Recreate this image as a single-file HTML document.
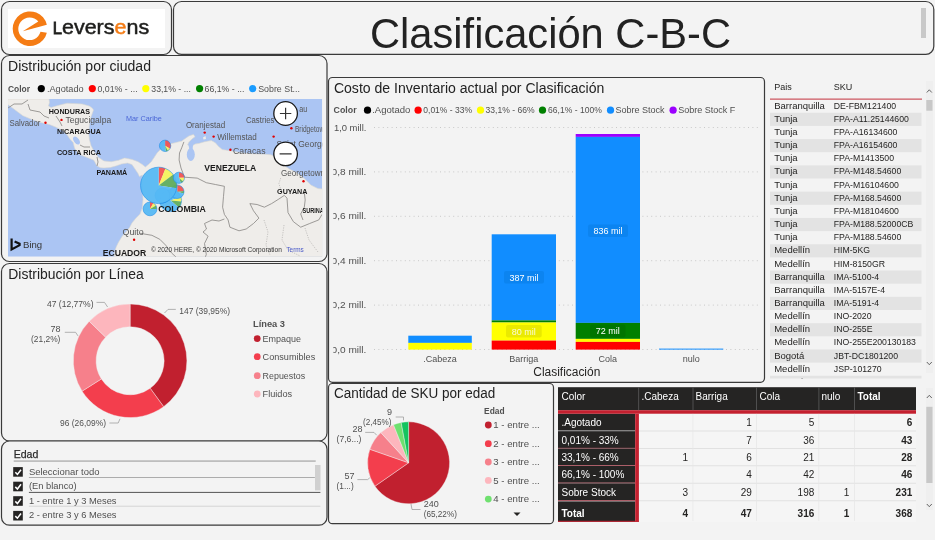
<!DOCTYPE html>
<html><head><meta charset="utf-8">
<style>
html,body{margin:0;padding:0;width:935px;height:540px;overflow:hidden;background:#f3f3f3;}
svg{display:block;font-family:"Liberation Sans",sans-serif;will-change:transform;}
.t{fill:#222222;}
.g{fill:#505050;}
</style></head>
<body>
<svg id="s" width="935" height="540" viewBox="0 0 935 540">
<rect x="0" y="0" width="935" height="540" fill="#f3f3f3"/>

<!-- ============ LOGO BOX ============ -->
<rect x="1.5" y="1.5" width="170" height="53" rx="8" fill="#f3f3f3" stroke="#3a3a3a" stroke-width="1.2"/>
<rect x="8" y="9" width="157" height="39" fill="#ffffff"/>
<g id="logo">
  <path d="M46.84 24.72 A17.3 17.3 0 1 0 46.84 32.69 L40.5 31.8 A11.3 11.3 0 1 1 38.3 21.6 L22.8 31.3 Z" fill="#f57c14"/>
  <text x="52.7" y="34" font-size="21" fill="#1d1d1b" stroke="#1d1d1b" stroke-width="0.5" textLength="96.5" lengthAdjust="spacingAndGlyphs"><tspan font-size="16.2" stroke-width="0.8">L</tspan>evers<tspan fill="#f57c14" stroke="#f57c14">e</tspan>ns</text>
</g>

<!-- ============ TITLE BOX ============ -->
<rect x="173.5" y="1.5" width="760.3" height="52.8" rx="8" fill="#f3f3f3" stroke="#3a3a3a" stroke-width="1.2"/>
<text x="370" y="47.8" font-size="41.7" class="t" textLength="361" lengthAdjust="spacingAndGlyphs">Clasificación C-B-C</text>
<rect x="921" y="8" width="5" height="30" fill="#c8c8c8"/>

<!-- ============ MAP BOX ============ -->
<rect x="1.5" y="55.5" width="325.5" height="206" rx="8" fill="#f3f3f3" stroke="#3a3a3a" stroke-width="1.2"/>
<text x="8" y="70.6" font-size="14" class="t" textLength="143" lengthAdjust="spacingAndGlyphs">Distribución por ciudad</text>
<g id="maplegend" font-size="9" fill="#505050">
  <text x="8" y="91.8" font-weight="bold" textLength="22" lengthAdjust="spacingAndGlyphs">Color</text>
  <circle cx="41.3" cy="88.6" r="3.6" fill="#000"/>
  <text x="46.9" y="91.8" textLength="36.8" lengthAdjust="spacingAndGlyphs">.Agotado</text>
  <circle cx="92.3" cy="88.6" r="3.6" fill="#ff0000"/>
  <text x="97.4" y="91.8" textLength="40.2" lengthAdjust="spacingAndGlyphs">0,01% - ...</text>
  <circle cx="145.8" cy="88.6" r="3.6" fill="#ffff00"/>
  <text x="151.3" y="91.8" textLength="39.6" lengthAdjust="spacingAndGlyphs">33,1% - ...</text>
  <circle cx="199.6" cy="88.6" r="3.6" fill="#008000"/>
  <text x="204.5" y="91.8" textLength="40" lengthAdjust="spacingAndGlyphs">66,1% - ...</text>
  <circle cx="252.7" cy="88.6" r="3.6" fill="#1a9cff"/>
  <text x="258.2" y="91.8" textLength="41.8" lengthAdjust="spacingAndGlyphs">Sobre St...</text>
</g>
<!--MAPSTART--><g id="map">
<defs><clipPath id="mapclip"><rect x="8" y="99" width="314.2" height="157.7"/></clipPath></defs>
<g clip-path="url(#mapclip)">
  <rect x="8" y="99" width="314.2" height="157.7" fill="#abc5f3"/>
  <path d="M7.6,99 L49,99 L49.5,102.5 L48.5,106 L51,107.5 L58,105.5 L67,103.2 L82,103.9 L89.4,106.1 L92.4,108.3 L93.5,110 L91,117 L89.4,124.6 L88.7,133.5 L89.4,139.4 L91,145.4 L94,151.3 L98.3,157.2 L103.9,160.9 L111.3,161.7 L118.7,160.2 L124.6,158 L132,159.4 L138,161.7 L142.4,164.6 L145.4,166.9 L148.3,164.6 L151.3,161.7 L154.3,157.2 L157.2,152.8 L160.2,149.8 L164,146.3 L169.8,144 L175.7,142.6 L181.7,141.1 L184.6,138.9 L189,135.9 L193.5,134.4 L195,136.7 L192,138.9 L189,141.9 L187.6,144.8 L190.6,146.3 L192.8,145.6 L195,144.1 L199.4,143.3 L203.9,141.9 L208.3,141.1 L211.3,140.6 L215.4,142.8 L218.4,146.3 L222.2,149.5 L230,150.8 L242.8,153 L255.6,154 L266,154.3 L271,154.8 L274.5,156.5 L279.3,160.5 L284.5,165.7 L289.8,169.3 L296.9,172.8 L303.9,178.1 L310.9,185.1 L318,188.6 L323,189 L323,257 L114,257 L114.8,251.1 L116.3,246.7 L118.5,242.2 L122.2,236.3 L125.9,231.9 L129.6,227.4 L131.9,223 L135.6,218.5 L140,214.1 L142.2,208.1 L143,199.3 L142.6,190 L141.7,179.4 L142.4,175 L139.4,176.5 L138,173.5 L135,169 L132,164.6 L127.6,163.1 L121.7,163.9 L115.7,166.1 L110,167.6 L104,168 L100.5,167.8 L97,166 L93.9,160.2 L86.5,157.2 L79,154.3 L74.6,148.3 L73.1,142.4 L70.2,139.4 L67.2,135 L62.8,130.6 L55.4,126.9 L49.4,124.6 L40.6,122.4 L31.7,119.4 L22.8,115.7 L13.9,109.1 L7.6,104.5 Z" fill="#efedea" stroke="#d8d6d2" stroke-width="0.6"/>
  <ellipse cx="190.8" cy="154.5" rx="4" ry="6.5" fill="#abc5f3"/><path d="M188.5 145 L193 145 L192.5 150 L189.5 150 Z" fill="#abc5f3"/>
  <ellipse cx="76.5" cy="140.5" rx="2.6" ry="4.5" transform="rotate(-35 76.5 140.5)" fill="#abc5f3"/>
  <path d="M203 137.5 L205.5 136 L206 139 L203.5 139.5 Z" fill="#efedea"/>
  <g fill="none" stroke="#8c8a88" stroke-width="0.85">
    <polyline points="183.9,141.9 181.7,147.8 179.5,153 179.1,160 181,168 184.5,177.2 197.2,178.1 206.3,182.7 215.4,184.5 224.4,186.3 223.5,196.3 222.6,207.2 224.4,214.4 228.1,219.9 229.9,227.2 239,230.8 246.2,229 253.5,223.5 258.9,218.1 253.5,210.8 249.9,203.6 257.1,204.5 264.4,207.2 271.6,203.6 278.9,199 284.3,195.4 287,198.1 288,212.6 293.4,221.7 300.7,227.2 309.7,223.5 318.8,219.9 322,214.4"/>
    <polyline points="304.3,192.7 305.2,199.9 304.3,207.2 300.7,214 303,220"/>
    <polyline points="204.5,223.5 206.5,229 203,232 208.1,236.2 204.5,243.5 206.3,254.4 205,258"/>
    <polyline points="204.5,223.5 212,220 219,221 224.4,219"/>
    <polyline points="140,233.3 151.9,235.3 159.8,239.3 165.7,245.2 171.7,253.1 176,257"/>
    <polyline points="8,108 14,104 22,104 28,100"/>
    <polyline points="28,104 30,110 40,112 44,116 49,118"/>
    <polyline points="56,116 60,122 62,126"/>
    <polyline points="80,145 84,147 90,147"/>
    <polyline points="97,157 98,162 97,166"/>
  </g>
  <g fill="none" stroke="#a8a6a4" stroke-width="0.6" stroke-dasharray="1.2 1.2">
    <polyline points="280.7,178.1 278.9,183.6 281,190"/>
    <polyline points="264,220 268,232 266,245 270,255"/>
    <polyline points="284,225 282,240 288,250 300,256"/>
    <polyline points="305,228 309,240 318,252"/>
  </g>
  <g opacity="0.93">
<path d="M150 208.9 L150.00 202.00 A6.9 6.9 0 0 1 153.45 202.92 Z" fill="#f25050"/>
<path d="M150 208.9 L153.45 202.92 A6.9 6.9 0 0 1 155.98 205.45 Z" fill="#f5f55a"/>
<path d="M150 208.9 L155.98 205.45 A6.9 6.9 0 0 1 156.90 208.90 Z" fill="#5cac5c"/>
<path d="M150 208.9 L156.90 208.90 A6.9 6.9 0 1 1 150.00 202.00 Z" fill="#55b9f5"/>
</g>
<circle cx="150" cy="208.9" r="6.9" fill="none" stroke="#1b8ae6" stroke-width="0.7" opacity="0.8"/>
<g opacity="0.93">
<path d="M170.6 200.6 L170.60 189.60 A11 11 0 0 1 180.94 196.84 Z" fill="#55b9f5"/>
<path d="M170.6 200.6 L180.94 196.84 A11 11 0 0 1 181.56 201.56 Z" fill="#f5f55a"/>
<path d="M170.6 200.6 L181.56 201.56 A11 11 0 0 1 179.03 207.67 Z" fill="#5cac5c"/>
<path d="M170.6 200.6 L179.03 207.67 A11 11 0 1 1 170.60 189.60 Z" fill="#55b9f5"/>
</g>
<circle cx="170.6" cy="200.6" r="11" fill="none" stroke="#1b8ae6" stroke-width="0.7" opacity="0.8"/>
<g opacity="0.93">
<path d="M177.2 191.7 L177.20 184.90 A6.8 6.8 0 0 1 183.97 191.11 Z" fill="#f25050"/>
<path d="M177.2 191.7 L183.97 191.11 A6.8 6.8 0 0 1 183.77 193.46 Z" fill="#5cac5c"/>
<path d="M177.2 191.7 L183.77 193.46 A6.8 6.8 0 1 1 177.20 184.90 Z" fill="#55b9f5"/>
</g>
<circle cx="177.2" cy="191.7" r="6.8" fill="none" stroke="#1b8ae6" stroke-width="0.7" opacity="0.8"/>
<g opacity="0.93">
<circle cx="162.5" cy="195.5" r="7.5" fill="#55b9f5"/>
</g>
<circle cx="162.5" cy="195.5" r="7.5" fill="none" stroke="#1b8ae6" stroke-width="0.7" opacity="0.8"/>
<g opacity="0.93">
<path d="M158.7 185.4 L158.70 167.20 A18.2 18.2 0 0 1 165.52 168.53 Z" fill="#f25050"/>
<path d="M158.7 185.4 L165.52 168.53 A18.2 18.2 0 0 1 173.24 174.45 Z" fill="#f5f55a"/>
<path d="M158.7 185.4 L173.24 174.45 A18.2 18.2 0 0 1 176.68 188.25 Z" fill="#5cac5c"/>
<path d="M158.7 185.4 L176.68 188.25 A18.2 18.2 0 1 1 158.70 167.20 Z" fill="#55b9f5"/>
</g>
<circle cx="158.7" cy="185.4" r="18.2" fill="none" stroke="#1b8ae6" stroke-width="0.7" opacity="0.8"/>
<g opacity="0.93">
<path d="M178.9 177.8 L178.90 172.20 A5.6 5.6 0 0 1 184.50 177.80 Z" fill="#f25050"/>
<path d="M178.9 177.8 L184.50 177.80 A5.6 5.6 0 0 1 183.19 181.40 Z" fill="#f5f55a"/>
<path d="M178.9 177.8 L183.19 181.40 A5.6 5.6 0 0 1 180.82 183.06 Z" fill="#5cac5c"/>
<path d="M178.9 177.8 L180.82 183.06 A5.6 5.6 0 1 1 178.90 172.20 Z" fill="#55b9f5"/>
</g>
<circle cx="178.9" cy="177.8" r="5.6" fill="none" stroke="#1b8ae6" stroke-width="0.7" opacity="0.8"/>
<g opacity="0.93">
<path d="M165.1 145.8 L165.10 140.10 A5.7 5.7 0 0 1 170.04 148.65 Z" fill="#f25050"/>
<path d="M165.1 145.8 L170.04 148.65 A5.7 5.7 0 0 1 167.95 150.74 Z" fill="#f5f55a"/>
<path d="M165.1 145.8 L167.95 150.74 A5.7 5.7 0 0 1 165.60 151.48 Z" fill="#5cac5c"/>
<path d="M165.1 145.8 L165.60 151.48 A5.7 5.7 0 1 1 165.10 140.10 Z" fill="#55b9f5"/>
</g>
<circle cx="165.1" cy="145.8" r="5.7" fill="none" stroke="#1b8ae6" stroke-width="0.7" opacity="0.8"/>
  <g fill="#e00000"><circle cx="45.5" cy="122.8" r="1.2" fill="#e00000"/><circle cx="61.5" cy="119.9" r="1.2" fill="#e00000"/><circle cx="204.7" cy="132.6" r="1.2" fill="#e00000"/><circle cx="213.6" cy="136.6" r="1.2" fill="#e00000"/><circle cx="230.4" cy="149.8" r="1.2" fill="#e00000"/><circle cx="273.6" cy="136.6" r="1.2" fill="#e00000"/><circle cx="291.4" cy="128.2" r="1.2" fill="#e00000"/><circle cx="303.5" cy="181.2" r="1.2" fill="#e00000"/><circle cx="134.1" cy="239.7" r="1.2" fill="#e00000"/></g>
  <g font-size="8.3" fill="#555">
    <text x="9.5" y="125.9" textLength="30.9" lengthAdjust="spacingAndGlyphs">Salvador</text>
    <text x="65.5" y="123.2" font-size="9" textLength="45.8" lengthAdjust="spacingAndGlyphs">Tegucigalpa</text>
    <text x="185.9" y="127.6" textLength="39.2" lengthAdjust="spacingAndGlyphs">Oranjestad</text>
    <text x="217.2" y="140.1" textLength="39.5" lengthAdjust="spacingAndGlyphs">Willemstad</text>
    <text x="233" y="154" font-size="9" textLength="32.6" lengthAdjust="spacingAndGlyphs">Caracas</text>
    <text x="245.9" y="122.7" textLength="28.6" lengthAdjust="spacingAndGlyphs">Castries</text>
    <text x="299.3" y="112.2" textLength="8" lengthAdjust="spacingAndGlyphs">au</text>
    <text x="294.9" y="132.2" textLength="33" lengthAdjust="spacingAndGlyphs">Bridgetown</text>
    <text x="276.5" y="146.8" textLength="50" lengthAdjust="spacingAndGlyphs">Saint George</text>
    <text x="281" y="176.3" textLength="44" lengthAdjust="spacingAndGlyphs">Georgetown</text>
    <text x="122.5" y="235.1" textLength="21.2" lengthAdjust="spacingAndGlyphs">Quito</text>
  </g>
  <text x="126" y="121.4" font-size="7.2" fill="#4a66d6" textLength="35.8" lengthAdjust="spacingAndGlyphs">Mar Caribe</text>
  <g font-size="7.6" font-weight="bold" fill="#1a1a1a">
    <text x="48.7" y="113.8" textLength="41.3" lengthAdjust="spacingAndGlyphs">HONDURAS</text>
    <text x="56.9" y="134.1" textLength="44" lengthAdjust="spacingAndGlyphs">NICARAGUA</text>
    <text x="56.9" y="154.5" textLength="44" lengthAdjust="spacingAndGlyphs">COSTA RICA</text>
    <text x="96.4" y="175" textLength="30.9" lengthAdjust="spacingAndGlyphs">PANAMÁ</text>
    <text x="204.3" y="171.2" font-size="8.6" textLength="52" lengthAdjust="spacingAndGlyphs">VENEZUELA</text>
    <text x="158.2" y="212" font-size="9.3" textLength="47.5" lengthAdjust="spacingAndGlyphs">COLOMBIA</text>
    <text x="277.1" y="193.5" textLength="30.3" lengthAdjust="spacingAndGlyphs">GUYANA</text>
    <text x="302.5" y="212.9" textLength="26" lengthAdjust="spacingAndGlyphs">SURINAM</text>
    <text x="102.7" y="255.7" font-size="8.7" textLength="43.6" lengthAdjust="spacingAndGlyphs">ECUADOR</text>
  </g>
  <text x="150.9" y="252.1" font-size="7.3" fill="#333" textLength="131" lengthAdjust="spacingAndGlyphs">© 2020 HERE, © 2020 Microsoft Corporation</text>
  <text x="286.4" y="252.1" font-size="7.3" fill="#4a5ac8" textLength="17.4" lengthAdjust="spacingAndGlyphs">Terms</text>
  <path d="M11.6 238.6 L11.6 249.4 L19.6 245.2 L19.6 243.8 L14.6 241.6" fill="none" stroke="#111" stroke-width="2.2" stroke-linejoin="miter"/>
  <text x="23" y="247.9" font-size="9.2" fill="#333" textLength="19.2" lengthAdjust="spacingAndGlyphs">Bing</text>
  <circle cx="285.6" cy="113.5" r="11.8" fill="#ffffff" stroke="#1a1a1a" stroke-width="1.3"/>
  <path d="M279.9 113.5 H291.3 M285.6 107.8 V119.2" stroke="#333" stroke-width="1.2"/>
  <circle cx="285.6" cy="153.9" r="11.8" fill="#ffffff" stroke="#1a1a1a" stroke-width="1.3"/>
  <path d="M279.6 153.9 H291.6" stroke="#333" stroke-width="1.2"/>
</g>
</g><!--MAPEND-->

<!-- ============ LINEA BOX ============ -->
<rect x="1.5" y="263.5" width="325.5" height="177.5" rx="8" fill="#f3f3f3" stroke="#3a3a3a" stroke-width="1.2"/>
<text x="8.3" y="279" font-size="14" class="t" textLength="135.4" lengthAdjust="spacingAndGlyphs">Distribución por Línea</text>


<g id="donut" stroke="#f3f3f3" stroke-width="0.4">
<path d="M130.10 304.00 A56.8 56.8 0 0 1 163.64 406.64 L150.18 388.24 A34 34 0 0 0 130.10 326.80 Z" fill="#c1202f"/>
<path d="M163.64 406.64 A56.8 56.8 0 0 1 82.08 391.14 L101.36 378.96 A34 34 0 0 0 150.18 388.24 Z" fill="#f33e4d"/>
<path d="M82.08 391.14 A56.8 56.8 0 0 1 89.26 321.33 L105.65 337.17 A34 34 0 0 0 101.36 378.96 Z" fill="#f6808b"/>
<path d="M89.26 321.33 A56.8 56.8 0 0 1 130.10 304.00 L130.10 326.80 A34 34 0 0 0 105.65 337.17 Z" fill="#fdb6bd"/>
</g>
<g id="donutlabels" font-size="9" fill="#505050">
  <text x="179.3" y="313.6" textLength="50.7" lengthAdjust="spacingAndGlyphs">147 (39,95%)</text>
  <text x="47" y="307" textLength="46.5" lengthAdjust="spacingAndGlyphs">47 (12,77%)</text>
  <text x="60.4" y="332.4" text-anchor="end">78</text>
  <text x="31" y="342.2" textLength="29.4" lengthAdjust="spacingAndGlyphs">(21,2%)</text>
  <text x="60" y="426.2" textLength="46" lengthAdjust="spacingAndGlyphs">96 (26,09%)</text>
</g>
<g id="donutleaders" fill="none" stroke="#a0a0a0" stroke-width="0.8">
  <polyline points="164.5,313 168,309.4 175.8,309.4"/>
  <polyline points="96.5,302.4 104.5,302.4 107.6,307"/>
  <polyline points="64.8,332.3 75.6,332.3 78,335.9"/>
  <polyline points="109.4,423 118.2,423 120,418.8"/>
</g>
<g id="donutlegend" fill="#505050">
  <text x="253" y="327" font-size="9" font-weight="bold" textLength="32" lengthAdjust="spacingAndGlyphs">Línea 3</text>
  <circle cx="257.2" cy="338.6" r="3.4" fill="#c1202f"/>
  <text x="262.6" y="341.9" font-size="9.5" textLength="38.5" lengthAdjust="spacingAndGlyphs">Empaque</text>
  <circle cx="257.2" cy="356.7" r="3.4" fill="#f33e4d"/>
  <text x="262.6" y="360" font-size="9.5" textLength="52.6" lengthAdjust="spacingAndGlyphs">Consumibles</text>
  <circle cx="257.2" cy="375.7" r="3.4" fill="#f6808b"/>
  <text x="262.6" y="379" font-size="9.5" textLength="42.5" lengthAdjust="spacingAndGlyphs">Repuestos</text>
  <circle cx="257.2" cy="394" r="3.4" fill="#fdb6bd"/>
  <text x="262.6" y="397.3" font-size="9.5" textLength="29.5" lengthAdjust="spacingAndGlyphs">Fluidos</text>
</g>

<!-- ============ EDAD BOX ============ -->
<rect x="1.5" y="441" width="325.5" height="84.2" rx="8" fill="#f3f3f3" stroke="#3a3a3a" stroke-width="1.2"/>


<g id="edad">
  <text x="13.7" y="458.4" font-size="11.3" fill="#2a2a2a" stroke="#2a2a2a" stroke-width="0.25" textLength="24.7" lengthAdjust="spacingAndGlyphs">Edad</text>
  <rect x="13.7" y="460.6" width="302" height="0.9" fill="#8a8a8a"/>
  <rect x="13.2" y="467.1" width="9.6" height="9.6" fill="#252423"/><path d="M15.3 472.3 L17.4 474.40000000000003 L21 469.70000000000005" fill="none" stroke="#fff" stroke-width="1.5"/><rect x="13.2" y="481.7" width="9.6" height="9.6" fill="#252423"/><path d="M15.3 486.9 L17.4 489.0 L21 484.3" fill="none" stroke="#fff" stroke-width="1.5"/><rect x="13.2" y="496.2" width="9.6" height="9.6" fill="#252423"/><path d="M15.3 501.4 L17.4 503.5 L21 498.8" fill="none" stroke="#fff" stroke-width="1.5"/><rect x="13.2" y="510.9" width="9.6" height="9.6" fill="#252423"/><path d="M15.3 516.1 L17.4 518.1999999999999 L21 513.5" fill="none" stroke="#fff" stroke-width="1.5"/>
  <g font-size="9.4" fill="#505050">
  <text x="28.9" y="474.6" textLength="70.6" lengthAdjust="spacingAndGlyphs">Seleccionar todo</text>
  <text x="28.9" y="488.8" textLength="47.8" lengthAdjust="spacingAndGlyphs">(En blanco)</text>
  <text x="28.9" y="503.8" textLength="87.6" lengthAdjust="spacingAndGlyphs">1 - entre 1 y 3 Meses</text>
  <text x="28.9" y="518.4" textLength="87.6" lengthAdjust="spacingAndGlyphs">2 - entre 3 y 6 Meses</text>
  </g>
  <rect x="28.9" y="477.1" width="286" height="0.8" fill="#9a9a9a"/>
  <rect x="28.9" y="491.9" width="291.5" height="1" fill="#555"/>
  <rect x="28.9" y="505.8" width="291.5" height="0.7" fill="#c8c8c8"/>
  <rect x="315" y="465" width="5.5" height="25.4" fill="#d0d0d0"/>
</g>

<!-- ============ CHART BOX ============ -->
<rect x="328.5" y="77.5" width="436" height="304.8" rx="4" fill="#f3f3f3" stroke="#3a3a3a" stroke-width="1.2"/>
<text x="333.9" y="93.3" font-size="14" class="t" textLength="270.5" lengthAdjust="spacingAndGlyphs">Costo de Inventario actual por Clasificación</text>


<g id="chartlegend" font-size="9" fill="#505050">
  <text x="333.6" y="113.3" font-weight="bold" textLength="23" lengthAdjust="spacingAndGlyphs">Color</text>
  <circle cx="367.5" cy="110.2" r="3.6" fill="#000"/>
  <text x="372.2" y="113.3" textLength="38.2" lengthAdjust="spacingAndGlyphs">.Agotado</text>
  <circle cx="418.1" cy="110.2" r="3.6" fill="#ff0000"/>
  <text x="423.3" y="113.3" textLength="48.7" lengthAdjust="spacingAndGlyphs">0,01% - 33%</text>
  <circle cx="480.5" cy="110.2" r="3.6" fill="#ffff00"/>
  <text x="485.6" y="113.3" textLength="49" lengthAdjust="spacingAndGlyphs">33,1% - 66%</text>
  <circle cx="542.5" cy="110.2" r="3.6" fill="#008000"/>
  <text x="548.1" y="113.3" textLength="53.7" lengthAdjust="spacingAndGlyphs">66,1% - 100%</text>
  <circle cx="610.5" cy="110.2" r="3.6" fill="#118dff"/>
  <text x="615.4" y="113.3" textLength="49.2" lengthAdjust="spacingAndGlyphs">Sobre Stock</text>
  <circle cx="673.1" cy="110.2" r="3.6" fill="#9b00ff"/>
  <text x="678.2" y="113.3" textLength="57.2" lengthAdjust="spacingAndGlyphs">Sobre Stock F</text>
</g>
<g id="grid" stroke="#c8c8c8" stroke-width="1" stroke-dasharray="1 3.4">
  <line x1="374" y1="127.5" x2="758" y2="127.5"/>
  <line x1="374" y1="171.9" x2="758" y2="171.9"/>
  <line x1="374" y1="216.3" x2="758" y2="216.3"/>
  <line x1="374" y1="260.7" x2="758" y2="260.7"/>
  <line x1="374" y1="305.1" x2="758" y2="305.1"/>
  <line x1="374" y1="349.5" x2="758" y2="349.5"/>
</g>
<defs><clipPath id="yclip"><rect x="333.3" y="115" width="40" height="245"/></clipPath></defs>
<g id="yax" font-size="9" fill="#505050" clip-path="url(#yclip)">
  <text x="333.9" y="130.6" textLength="32.5" lengthAdjust="spacingAndGlyphs">1,0 mill.</text>
  <text x="331.6" y="175" textLength="34.8" lengthAdjust="spacingAndGlyphs">0,8 mill.</text>
  <text x="331.6" y="219.4" textLength="34.8" lengthAdjust="spacingAndGlyphs">0,6 mill.</text>
  <text x="331.6" y="263.8" textLength="34.8" lengthAdjust="spacingAndGlyphs">0,4 mill.</text>
  <text x="331.6" y="308.2" textLength="34.8" lengthAdjust="spacingAndGlyphs">0,2 mill.</text>
  <text x="331.6" y="352.6" textLength="34.8" lengthAdjust="spacingAndGlyphs">0,0 mill.</text>
</g>
<g id="bars">
  <!-- Cabeza -->
  <rect x="408.3" y="335.7" width="63.5" height="7.2" fill="#118dff"/>
  <rect x="408.3" y="342.9" width="63.5" height="6.7" fill="#ffff00"/>
  <!-- Barriga -->
  <rect x="491.7" y="234.3" width="64.3" height="86.1" fill="#118dff"/>
  <rect x="491.7" y="320.4" width="64.3" height="2.1" fill="#008000"/>
  <rect x="491.7" y="322.5" width="64.3" height="18.1" fill="#ffff00"/>
  <rect x="491.7" y="340.6" width="64.3" height="9.0" fill="#ff0000"/>
  <!-- Cola -->
  <rect x="575.7" y="134" width="64.3" height="2.9" fill="#9b00ff"/>
  <rect x="575.7" y="136.9" width="64.3" height="186" fill="#118dff"/>
  <rect x="575.7" y="322.9" width="64.3" height="16" fill="#008000"/>
  <rect x="575.7" y="338.9" width="64.3" height="3" fill="#ffff00"/>
  <rect x="575.7" y="341.9" width="64.3" height="7.7" fill="#ff0000"/>
  <!-- nulo -->
  <rect x="659" y="348.6" width="64.3" height="1" fill="#118dff"/>
</g>
<g id="dlabels" font-size="9">
  <rect x="504" y="270.9" width="40" height="12.5" rx="2" fill="#0a7fe6" opacity="0.6"/>
  <text x="524" y="280.5" text-anchor="middle" fill="#ffffff">387 mil</text>
  <rect x="506" y="325" width="35.7" height="12.5" rx="2" fill="#d0d000" opacity="0.45"/>
  <text x="523.8" y="334.6" text-anchor="middle" fill="#fafad6">80 mil</text>
  <rect x="590" y="324.6" width="35.5" height="12.9" rx="2" fill="#006e00" opacity="0.6"/>
  <text x="607.8" y="334.4" text-anchor="middle" fill="#ffffff">72 mil</text>
  <rect x="588" y="224.5" width="40" height="12.5" rx="2" fill="#0a7fe6" opacity="0.6"/>
  <text x="608" y="234.1" text-anchor="middle" fill="#ffffff">836 mil</text>
</g>
<g id="xax" font-size="9" fill="#505050" text-anchor="middle">
  <text x="440" y="361.8">.Cabeza</text>
  <text x="523.8" y="361.8">Barriga</text>
  <text x="607.8" y="361.8">Cola</text>
  <text x="691.2" y="361.8">nulo</text>
</g>
<text x="566.8" y="376" font-size="12" fill="#252423" text-anchor="middle" textLength="67" lengthAdjust="spacingAndGlyphs">Clasificación</text>

<!-- ============ SKU EDAD BOX ============ -->
<rect x="328.5" y="383.5" width="225" height="140.2" rx="4" fill="#f3f3f3" stroke="#3a3a3a" stroke-width="1.2"/>
<text x="333.9" y="398.4" font-size="14" class="t" textLength="161.5" lengthAdjust="spacingAndGlyphs">Cantidad de SKU por edad</text>


<g id="pie" stroke="#f3f3f3" stroke-width="0.4">
<path d="M408.6 462.8 L408.60 421.80 A41 41 0 1 1 374.93 486.20 Z" fill="#c1202f"/>
<path d="M408.6 462.8 L374.93 486.20 A41 41 0 0 1 369.88 449.32 Z" fill="#f33e4d"/>
<path d="M408.6 462.8 L369.88 449.32 A41 41 0 0 1 380.85 432.62 Z" fill="#f6808b"/>
<path d="M408.6 462.8 L380.85 432.62 A41 41 0 0 1 393.51 424.68 Z" fill="#fdb6bd"/>
<path d="M408.6 462.8 L393.51 424.68 A41 41 0 0 1 401.20 422.47 Z" fill="#6fe06f"/>
<path d="M408.6 462.8 L401.20 422.47 A41 41 0 0 1 408.60 421.80 Z" fill="#14c45f"/>
</g>
<g id="pielabels" font-size="9" fill="#505050">
  <text x="387" y="415.2">9</text>
  <text x="363" y="425.2" textLength="28.5" lengthAdjust="spacingAndGlyphs">(2,45%)</text>
  <text x="352.6" y="431.5">28</text>
  <text x="336.5" y="441.7" textLength="25" lengthAdjust="spacingAndGlyphs">(7,6...)</text>
  <text x="344.4" y="478.7">57</text>
  <text x="336.5" y="488.9" textLength="17.2" lengthAdjust="spacingAndGlyphs">(1...)</text>
  <text x="423.7" y="507.4">240</text>
  <text x="423.7" y="517" textLength="33.2" lengthAdjust="spacingAndGlyphs">(65,22%)</text>
</g>
<g fill="none" stroke="#a0a0a0" stroke-width="0.8">
  <polyline points="395.7,417 403.5,417 403.5,420.4"/>
  <polyline points="365.2,432.4 374,432.4 376.7,435.2"/>
  <polyline points="357.4,479.6 367.6,479.6 369.8,477.8"/>
  <polyline points="411,504 412,509.5 420.5,509.5"/>
</g>
<g id="pielegend" fill="#505050">
  <text x="484.1" y="413.5" font-size="9" font-weight="bold" textLength="20.5" lengthAdjust="spacingAndGlyphs">Edad</text>
  <circle cx="488.3" cy="425" r="3.4" fill="#c1202f"/>
  <text x="493.3" y="428.3" font-size="9.5" textLength="46.5" lengthAdjust="spacingAndGlyphs">1 - entre ...</text>
  <circle cx="488.3" cy="443.7" r="3.4" fill="#f33e4d"/>
  <text x="493.3" y="447" font-size="9.5" textLength="46.5" lengthAdjust="spacingAndGlyphs">2 - entre ...</text>
  <circle cx="488.3" cy="462" r="3.4" fill="#f6808b"/>
  <text x="493.3" y="465.3" font-size="9.5" textLength="46.5" lengthAdjust="spacingAndGlyphs">3 - entre ...</text>
  <circle cx="488.3" cy="480.4" r="3.4" fill="#fdb6bd"/>
  <text x="493.3" y="483.7" font-size="9.5" textLength="46.5" lengthAdjust="spacingAndGlyphs">5 - entre ...</text>
  <circle cx="488.3" cy="499.1" r="3.4" fill="#6fe06f"/>
  <text x="493.3" y="502.4" font-size="9.5" textLength="46.5" lengthAdjust="spacingAndGlyphs">4 - entre ...</text>
  <path d="M513.5 512.5 L520.5 512.5 L517 516 Z" fill="#252423"/>
</g>

<!-- ============ SKU TABLE ============ -->
<g id="skutable">
<defs><clipPath id="skuclip"><rect x="770" y="99.5" width="152" height="279"/></clipPath></defs>
<g font-size="9" fill="#252423">
<text x="774.2" y="89.7" fill="#252423">Pais</text><text x="833.8" y="89.7" fill="#252423">SKU</text>
<rect x="770" y="98.6" width="152" height="1" fill="#c4303c"/>
<g clip-path="url(#skuclip)">
<text x="774.2" y="108.70" font-size="9.5">Barranquilla</text><text x="833.8" y="108.70" font-size="8.7">DE-FBM121400</text>
<rect x="770" y="112.75" width="151.5" height="13.15" fill="#e3e3e3"/>
<text x="774.2" y="121.85" font-size="9.5">Tunja</text><text x="833.8" y="121.85" font-size="8.7">FPA-A11.25144600</text>
<text x="774.2" y="135.00" font-size="9.5">Tunja</text><text x="833.8" y="135.00" font-size="8.7">FPA-A16134600</text>
<rect x="770" y="139.05" width="151.5" height="13.15" fill="#e3e3e3"/>
<text x="774.2" y="148.15" font-size="9.5">Tunja</text><text x="833.8" y="148.15" font-size="8.7">FPA-A16154600</text>
<text x="774.2" y="161.30" font-size="9.5">Tunja</text><text x="833.8" y="161.30" font-size="8.7">FPA-M1413500</text>
<rect x="770" y="165.35" width="151.5" height="13.15" fill="#e3e3e3"/>
<text x="774.2" y="174.45" font-size="9.5">Tunja</text><text x="833.8" y="174.45" font-size="8.7">FPA-M148.54600</text>
<text x="774.2" y="187.60" font-size="9.5">Tunja</text><text x="833.8" y="187.60" font-size="8.7">FPA-M16104600</text>
<rect x="770" y="191.65" width="151.5" height="13.15" fill="#e3e3e3"/>
<text x="774.2" y="200.75" font-size="9.5">Tunja</text><text x="833.8" y="200.75" font-size="8.7">FPA-M168.54600</text>
<text x="774.2" y="213.90" font-size="9.5">Tunja</text><text x="833.8" y="213.90" font-size="8.7">FPA-M18104600</text>
<rect x="770" y="217.95" width="151.5" height="13.15" fill="#e3e3e3"/>
<text x="774.2" y="227.05" font-size="9.5">Tunja</text><text x="833.8" y="227.05" font-size="8.7">FPA-M188.52000CB</text>
<text x="774.2" y="240.20" font-size="9.5">Tunja</text><text x="833.8" y="240.20" font-size="8.7">FPA-M188.54600</text>
<rect x="770" y="244.25" width="151.5" height="13.15" fill="#e3e3e3"/>
<text x="774.2" y="253.35" font-size="9.5">Medellín</text><text x="833.8" y="253.35" font-size="8.7">HIM-5KG</text>
<text x="774.2" y="266.50" font-size="9.5">Medellín</text><text x="833.8" y="266.50" font-size="8.7">HIM-8150GR</text>
<rect x="770" y="270.55" width="151.5" height="13.15" fill="#e3e3e3"/>
<text x="774.2" y="279.65" font-size="9.5">Barranquilla</text><text x="833.8" y="279.65" font-size="8.7">IMA-5100-4</text>
<text x="774.2" y="292.80" font-size="9.5">Barranquilla</text><text x="833.8" y="292.80" font-size="8.7">IMA-5157E-4</text>
<rect x="770" y="296.85" width="151.5" height="13.15" fill="#e3e3e3"/>
<text x="774.2" y="305.95" font-size="9.5">Barranquilla</text><text x="833.8" y="305.95" font-size="8.7">IMA-5191-4</text>
<text x="774.2" y="319.10" font-size="9.5">Medellín</text><text x="833.8" y="319.10" font-size="8.7">INO-2020</text>
<rect x="770" y="323.15" width="151.5" height="13.15" fill="#e3e3e3"/>
<text x="774.2" y="332.25" font-size="9.5">Medellín</text><text x="833.8" y="332.25" font-size="8.7">INO-255E</text>
<text x="774.2" y="345.40" font-size="9.5">Medellín</text><text x="833.8" y="345.40" font-size="8.7">INO-255E200130183</text>
<rect x="770" y="349.45" width="151.5" height="13.15" fill="#e3e3e3"/>
<text x="774.2" y="358.55" font-size="9.5">Bogotá</text><text x="833.8" y="358.55" font-size="8.7">JBT-DC1801200</text>
<text x="774.2" y="371.70" font-size="9.5">Medellín</text><text x="833.8" y="371.70" font-size="8.7">JSP-101270</text>
<rect x="770" y="375.75" width="151.5" height="13.15" fill="#e3e3e3"/>
<text x="774.2" y="384.85" font-size="9.5">Bogotá</text><text x="833.8" y="384.85" font-size="8.7">JSP-101280</text>
</g></g>
<rect x="926" y="81" width="7" height="292" fill="#efefef"/>
<path d="M926.8 92.5 L929.3 89.8 L931.8 92.5" fill="none" stroke="#555" stroke-width="0.9"/>
<rect x="926.3" y="100" width="6.2" height="10.7" fill="#c8c8c8"/>
<path d="M926.8 362 L929.3 364.7 L931.8 362" fill="none" stroke="#555" stroke-width="0.9"/>
</g>

<!-- ============ MATRIX ============ -->
<g id="matrix">
<g id="matrixg" font-size="10">
<rect x="558" y="387.2" width="358" height="23" fill="#252423"/>
<rect x="558" y="410.2" width="358" height="3.6" fill="#c4202f"/>
<rect x="638.3" y="387.2" width="0.8" height="23" fill="#5a5a5a"/>
<rect x="692.6" y="387.2" width="0.8" height="23" fill="#5a5a5a"/>
<rect x="756" y="387.2" width="0.8" height="23" fill="#5a5a5a"/>
<rect x="818.5" y="387.2" width="0.8" height="23" fill="#5a5a5a"/>
<rect x="854" y="387.2" width="0.8" height="23" fill="#5a5a5a"/>
<text x="561.5" y="399.8" fill="#ffffff">Color</text>
<text x="641.5" y="399.8" fill="#ffffff">.Cabeza</text>
<text x="695.5" y="399.8" fill="#ffffff">Barriga</text>
<text x="759.5" y="399.8" fill="#ffffff">Cola</text>
<text x="821.5" y="399.8" fill="#ffffff">nulo</text>
<text x="857.5" y="399.8" fill="#ffffff" font-weight="bold">Total</text>
<rect x="639" y="413.9" width="277" height="107.9" fill="#f5f5f5"/>
<rect x="558" y="413.9" width="77.2" height="16.7" fill="#252423"/>
<rect x="558" y="430.4" width="77.2" height="0.9" fill="#8c8c8c"/>
<rect x="639" y="430.6" width="277" height="0.8" fill="#dddddd"/>
<text x="561.5" y="426.3" fill="#ffffff">.Agotado</text>
<text x="751.8" y="426.3" text-anchor="end" fill="#252423">1</text>
<text x="814.3" y="426.3" text-anchor="end" fill="#252423">5</text>
<text x="912.3" y="426.3" text-anchor="end" fill="#252423" font-weight="bold">6</text>
<rect x="558" y="431.2" width="77.2" height="16.8" fill="#252423"/>
<rect x="558" y="447.8" width="77.2" height="0.9" fill="#b0505c"/>
<rect x="639" y="448.0" width="277" height="0.8" fill="#dddddd"/>
<text x="561.5" y="443.6" fill="#ffffff">0,01% - 33%</text>
<text x="751.8" y="443.6" text-anchor="end" fill="#252423">7</text>
<text x="814.3" y="443.6" text-anchor="end" fill="#252423">36</text>
<text x="912.3" y="443.6" text-anchor="end" fill="#252423" font-weight="bold">43</text>
<rect x="558" y="448.6" width="77.2" height="16.8" fill="#252423"/>
<rect x="558" y="465.2" width="77.2" height="0.9" fill="#b0505c"/>
<rect x="639" y="465.4" width="277" height="0.8" fill="#dddddd"/>
<text x="561.5" y="461.0" fill="#ffffff">33,1% - 66%</text>
<text x="688" y="461.0" text-anchor="end" fill="#252423">1</text>
<text x="751.8" y="461.0" text-anchor="end" fill="#252423">6</text>
<text x="814.3" y="461.0" text-anchor="end" fill="#252423">21</text>
<text x="912.3" y="461.0" text-anchor="end" fill="#252423" font-weight="bold">28</text>
<rect x="558" y="466.0" width="77.2" height="16.8" fill="#252423"/>
<rect x="558" y="482.6" width="77.2" height="0.9" fill="#b0505c"/>
<rect x="639" y="482.8" width="277" height="0.8" fill="#dddddd"/>
<text x="561.5" y="478.4" fill="#ffffff">66,1% - 100%</text>
<text x="751.8" y="478.4" text-anchor="end" fill="#252423">4</text>
<text x="814.3" y="478.4" text-anchor="end" fill="#252423">42</text>
<text x="912.3" y="478.4" text-anchor="end" fill="#252423" font-weight="bold">46</text>
<rect x="558" y="483.4" width="77.2" height="17.0" fill="#252423"/>
<rect x="558" y="500.2" width="77.2" height="0.9" fill="#b0505c"/>
<rect x="639" y="500.4" width="277" height="0.8" fill="#dddddd"/>
<text x="561.5" y="495.8" fill="#ffffff">Sobre Stock</text>
<text x="688" y="495.8" text-anchor="end" fill="#252423">3</text>
<text x="751.8" y="495.8" text-anchor="end" fill="#252423">29</text>
<text x="814.3" y="495.8" text-anchor="end" fill="#252423">198</text>
<text x="849.3" y="495.8" text-anchor="end" fill="#252423">1</text>
<text x="912.3" y="495.8" text-anchor="end" fill="#252423" font-weight="bold">231</text>
<rect x="558" y="501.4" width="77.2" height="20.4" fill="#252423"/>
<text x="561.5" y="517.1" fill="#ffffff" font-weight="bold">Total</text>
<text x="688" y="517.1" text-anchor="end" fill="#252423" font-weight="bold">4</text>
<text x="751.8" y="517.1" text-anchor="end" fill="#252423" font-weight="bold">47</text>
<text x="814.3" y="517.1" text-anchor="end" fill="#252423" font-weight="bold">316</text>
<text x="849.3" y="517.1" text-anchor="end" fill="#252423" font-weight="bold">1</text>
<text x="912.3" y="517.1" text-anchor="end" fill="#252423" font-weight="bold">368</text>
<rect x="558" y="520.8" width="80.9" height="1" fill="#c4202f"/>
<rect x="635.2" y="413.9" width="3.7" height="107.9" fill="#c4202f"/>
<rect x="692.6" y="413.9" width="0.7" height="107" fill="#e6e6e6"/>
<rect x="756" y="413.9" width="0.7" height="107" fill="#e6e6e6"/>
<rect x="818.5" y="413.9" width="0.7" height="107" fill="#e6e6e6"/>
<rect x="854" y="413.9" width="0.7" height="107" fill="#e6e6e6"/>
<rect x="926" y="388" width="7" height="122" fill="#efefef"/>
<path d="M926.8 398 L929.3 395.3 L931.8 398" fill="none" stroke="#555" stroke-width="0.9"/>
<rect x="926.3" y="406.8" width="6.2" height="76.2" fill="#c8c8c8"/>
<path d="M926.8 504 L929.3 506.7 L931.8 504" fill="none" stroke="#555" stroke-width="0.9"/>
</g>
</g>

</svg>
</body></html>
